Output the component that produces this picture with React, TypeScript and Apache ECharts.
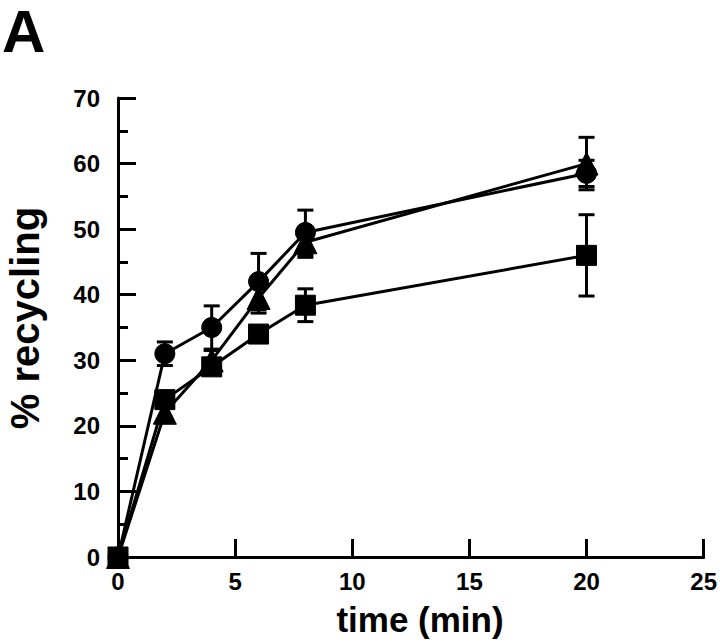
import React, { useEffect, useRef } from "react";
import * as echarts from "echarts";

const times = [0, 2, 4, 6, 8, 20];
const circleVals = [0, 31, 35, 42, 49.5, 58.5];
const circleErr = [0, 1.8, 3.3, 4.3, 3.4, 2];
const triangleVals = [0, 22, 30, 39.5, 48, 60];
const triangleErr = [0, 1, 1.5, 2.3, 2.3, 4];
const squareVals = [0, 24, 29, 34, 38.4, 46];
const squareErr = [0.8, 1, 1, 1, 2.5, 6.2];

const xTicks = [0, 5, 10, 15, 20, 25];
const yTicks = [0, 10, 20, 30, 40, 50, 60, 70];

const FONT = "'Liberation Sans', Arial, sans-serif";

function errData(vals: number[], errs: number[]) {
  return times.map((t, i) => [t, vals[i], errs[i]]);
}

function errSeries(name: string, vals: number[], errs: number[]) {
  return {
    type: "custom",
    name: name + " err",
    z: 1,
    clip: false,
    silent: true,
    data: errData(vals, errs),
    renderItem: (params: any, api: any) => {
      const x = api.value(0);
      const y = api.value(1);
      const e = api.value(2);
      if (!e) return null;
      const top = api.coord([x, y + e]);
      const bot = api.coord([x, y - e]);
      const hw = 8;
      const st = { stroke: "#000", lineWidth: 3 };
      return {
        type: "group",
        children: [
          { type: "line", shape: { x1: top[0], y1: top[1], x2: bot[0], y2: bot[1] }, style: st },
          { type: "line", shape: { x1: top[0] - hw, y1: top[1], x2: top[0] + hw, y2: top[1] }, style: st },
          { type: "line", shape: { x1: bot[0] - hw, y1: bot[1], x2: bot[0] + hw, y2: bot[1] }, style: st },
        ],
      };
    },
  };
}

function lineSeries(name: string, vals: number[], symbol: string, size: number) {
  return {
    type: "line",
    name,
    z: 3,
    clip: false,
    data: times.map((t, i) => [t, vals[i]]),
    symbol,
    symbolSize: size,
    showAllSymbol: true,
    lineStyle: { color: "#000", width: 3 },
    itemStyle: { color: "#000", borderColor: "#000" },
  };
}

export default function App() {
  const ref = useRef<HTMLDivElement>(null);
  useEffect(() => {
    if (!ref.current) return;
    const chart = echarts.init(ref.current, null, { renderer: "svg" });
    chart.setOption({
      animation: false,
      backgroundColor: "#fff",
      grid: { left: 118, right: 11, top: 98, bottom: 85, containLabel: false },
      xAxis: {
        type: "value",
        min: xTicks[0],
        max: xTicks[xTicks.length - 1],
        interval: 5,
        axisLine: { show: true, onZero: false, lineStyle: { color: "#000", width: 3 } },
        axisTick: { show: true, inside: true, length: 18, lineStyle: { color: "#000", width: 3 } },
        splitLine: { show: false },
        axisLabel: {
          color: "#000",
          fontFamily: FONT,
          fontWeight: "bold",
          fontSize: 24,
          margin: 12,
          formatter: (v: number) => (xTicks.includes(v) ? String(v) : ""),
        },
      },
      yAxis: {
        type: "value",
        min: yTicks[0],
        max: yTicks[yTicks.length - 1],
        interval: 10,
        axisLine: { show: true, onZero: false, lineStyle: { color: "#000", width: 3 } },
        axisTick: { show: true, inside: true, length: 18, lineStyle: { color: "#000", width: 3 } },
        minorTick: { show: true, splitNumber: 2, length: 10, lineStyle: { color: "#000", width: 3 } },
        splitLine: { show: false },
        minorSplitLine: { show: false },
        axisLabel: {
          color: "#000",
          fontFamily: FONT,
          fontWeight: "bold",
          fontSize: 24,
          margin: 18,
          formatter: (v: number) => (yTicks.includes(v) ? String(v) : ""),
        },
      },
      graphic: [
        {
          type: "text",
          x: 2,
          y: 1,
          style: {
            text: "A",
            fontFamily: FONT,
            fontWeight: "bold",
            fontSize: 60,
            fill: "#000",
            align: "left",
            verticalAlign: "top",
          },
        },
        {
          type: "text",
          x: 420,
          y: 619,
          style: {
            text: "time (min)",
            fontFamily: FONT,
            fontWeight: "bold",
            fontSize: 35,
            fill: "#000",
            align: "center",
            verticalAlign: "middle",
          },
        },
        {
          type: "text",
          x: 25,
          y: 318,
          rotation: Math.PI / 2,
          style: {
            text: "% recycling",
            fontFamily: FONT,
            fontWeight: "bold",
            fontSize: 40,
            fill: "#000",
            align: "center",
            verticalAlign: "middle",
          },
        },
      ],
      series: [
        errSeries("circle", circleVals, circleErr),
        errSeries("triangle", triangleVals, triangleErr),
        errSeries("square", squareVals, squareErr),
        lineSeries("circle", circleVals, "circle", 20),
        lineSeries("triangle", triangleVals, "triangle", 23),
        lineSeries("square", squareVals, "rect", 20),
      ],
    });
    return () => chart.dispose();
  }, []);
  return <div ref={ref} style={{ width: 720, height: 642, position: "absolute", left: 0, top: 0 }} />;
}
